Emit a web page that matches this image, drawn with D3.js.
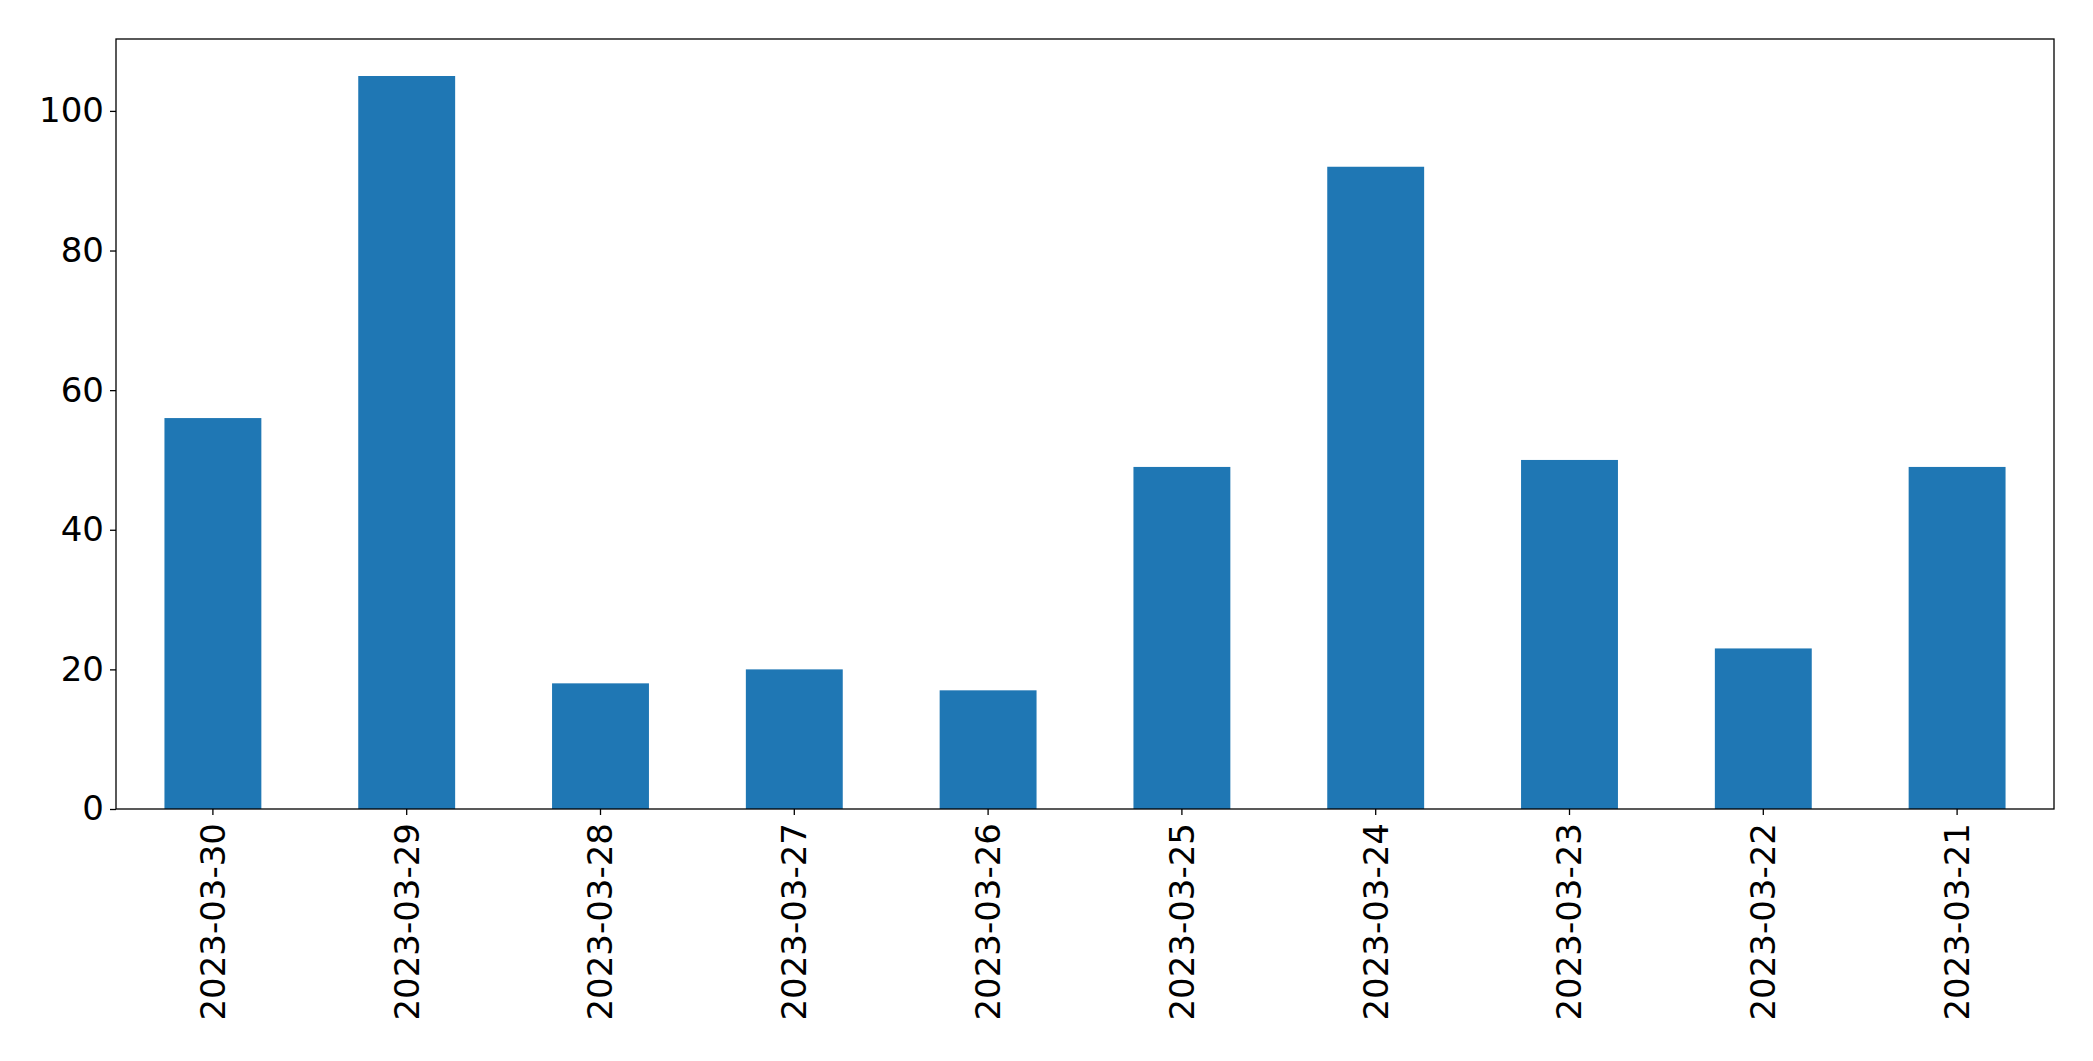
<!DOCTYPE html>
<html><head><meta charset="utf-8">
<script src="https://cdn.jsdelivr.net/npm/d3@7"></script>
<style>body{margin:0;background:#fff}</style></head>
<body><svg id="c" width="2093" height="1061"></svg>
<script>
const categories = ["2023-03-30","2023-03-29","2023-03-28","2023-03-27","2023-03-26","2023-03-25","2023-03-24","2023-03-23","2023-03-22","2023-03-21"];
const values = [56,105,18,20,17,49,92,50,23,49];
const yTicks = [0,20,40,60,80,100];

const m = {l:116, t:39, r:2054, b:809};
const svg = d3.select("#c");
const x = d3.scaleBand().domain(categories).range([m.l, m.r]).paddingInner(0.5).paddingOuter(0.25);
const y = d3.scaleLinear().domain([0,110.3]).range([m.b, m.t]);
const font = "DejaVu Sans, sans-serif";

svg.selectAll("rect.bar").data(values).enter().append("rect")
  .attr("x",(d,i)=>x(categories[i])).attr("width",x.bandwidth())
  .attr("y",d=>y(d)).attr("height",d=>y(0)-y(d)).attr("fill","#1f77b4");

const ya = svg.append("g").attr("transform",`translate(${m.l},0)`)
  .call(d3.axisLeft(y).tickValues(yTicks).tickSize(6).tickPadding(6));
ya.selectAll("text").style("font-family",font).style("font-size","34px").attr("fill","#000");
ya.select(".domain").remove();
ya.selectAll("line").attr("stroke","#000").attr("stroke-width",1.3);

const xa = svg.append("g").attr("transform",`translate(0,${m.b})`)
  .call(d3.axisBottom(x).tickSize(6).tickPadding(8));
xa.select(".domain").remove();
xa.selectAll("line").attr("stroke","#000").attr("stroke-width",1.3);
xa.selectAll("text").style("font-family",font).style("font-size","34px").attr("fill","#000")
  .attr("transform","rotate(-90)").attr("text-anchor","end").attr("x",-14).attr("y",0).attr("dy","0.35em");

svg.append("rect").attr("x",m.l).attr("y",m.t).attr("width",m.r-m.l).attr("height",m.b-m.t)
  .attr("fill","none").attr("stroke","#000").attr("stroke-width",1.3);
</script></body></html>
